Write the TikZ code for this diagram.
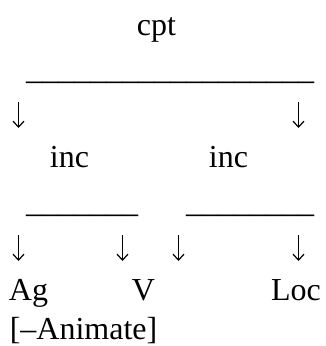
\documentclass[tikz,border=0pt]{standalone}
\usepackage{fontspec}
\setmainfont{Liberation Serif}
\usepackage{tikz}
\usetikzlibrary{arrows.meta}

\begin{document}
\begin{tikzpicture}[x=1pt, y=-1pt,
    word/.style={inner sep=0pt, anchor=base, font=\fontsize{32pt}{38pt}\selectfont},
    bar/.style={word, anchor=base west},
    down/.style={line width=1.2pt, -{Straight Barb[length=6pt, width=11pt]}}]
    \useasboundingbox (0,0) rectangle (325,346);

    \node (cpt) [word] at (156.5,35) {cpt};
    \node (topbar) [bar] at (26,79) {\_\_\_\_\_\_\_\_\_\_\_\_\_\_\_\_\_\_};

    \node (incL) [word] at (69.5,167) {inc};
    \node (incR) [word] at (228.5,167) {inc};
    \node (barL) [bar] at (26,212) {\_\_\_\_\_\_\_};
    \node (barR) [bar] at (186,212) {\_\_\_\_\_\_\_\_};

    \node (ag) [word] at (28.5,300) {Ag};
    \node (v) [word] at (143.5,300) {V};
    \node (loc) [word] at (296,300) {Loc};
    \node (anim) [word] at (83.5,339) {[–Animate]};

    % arrow ends
    \coordinate (incLtop) at (18.5,102);
    \coordinate (incLend) at (18.5,128);
    \coordinate (incRtop) at (298.5,102);
    \coordinate (incRend) at (298.5,128);
    \coordinate (agtop) at (18.5,235);
    \coordinate (agend) at (18.5,261);
    \coordinate (vtop) at (122.5,235);
    \coordinate (vend) at (122.5,261);
    \coordinate (v2top) at (178.5,235);
    \coordinate (v2end) at (178.5,261);
    \coordinate (loctop) at (298.5,235);
    \coordinate (locend) at (298.5,261);

    \draw [down] (incLtop) -- (incLend);
    \draw [down] (incRtop) -- (incRend);
    \draw [down] (agtop) -- (agend);
    \draw [down] (vtop) -- (vend);
    \draw [down] (v2top) -- (v2end);
    \draw [down] (loctop) -- (locend);
  \end{tikzpicture}
\end{document}
